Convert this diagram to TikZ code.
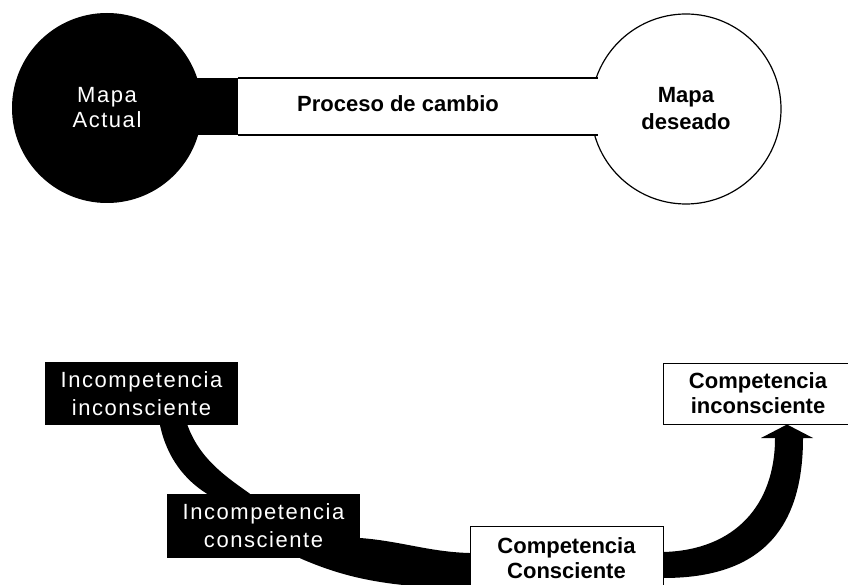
\documentclass[tikz,border=0pt]{standalone}
\usepackage{fontspec}
\setmainfont{Liberation Sans}
\newfontfamily\spacedfont[LetterSpace=7]{Liberation Sans}
\usetikzlibrary{backgrounds}
\begin{document}
\begin{tikzpicture}[x=1pt,y=-1pt,
  regtext/.style={font=\spacedfont\fontsize{22}{28}\selectfont, align=center},
  boldtext/.style={font=\bfseries\fontsize{22}{25}\selectfont, align=center},
  blackbox/.style={regtext, fill=black, text=white, inner sep=0pt},
  whitebox/.style={boldtext, draw=black, line width=1pt, fill=white, inner sep=0pt},
  band/.style={fill=black, draw=none}]
\useasboundingbox (0,0) rectangle (848,585);
\clip (0,0) rectangle (848,585);

% ---------- top: change process ----------
\node[circle, draw=black, line width=1.2pt, fill=white, minimum size=190pt, inner sep=0pt] (deseado) at (686,109) {};
\node[fill=white, minimum width=360pt, minimum height=57pt, inner sep=0pt] (bar) at (418,106.5) {};
\draw[line width=1.5pt] (bar.north west) -- (bar.north east);
\draw[line width=1.5pt] (bar.south west) -- (bar.south east);
\node[circle, fill=black, minimum size=190pt, inner sep=0pt] (actual) at (107,108) {};
\node[fill=black, minimum width=44pt, minimum height=57pt, inner sep=0pt, anchor=east] (barblack) at (bar.west) {};
\node[regtext, text=white, font=\spacedfont\fontsize{22}{25}\selectfont] (actualtxt) at (actual.center) {Mapa\\Actual};
\node[boldtext, font=\bfseries\fontsize{22}{27}\selectfont] (procesotxt) at (398,104) {Proceso de cambio};
\node[boldtext, font=\bfseries\fontsize{22}{27}\selectfont] (deseadotxt) at (deseado.center) {Mapa\\deseado};

% ---------- bottom: competence stages ----------
\node[blackbox, minimum width=193pt, minimum height=63pt] (b1) at (141.5,393.5) {Incompetencia\\inconsciente};
\node[blackbox, minimum width=193pt, minimum height=64pt] (b2) at (263.5,526) {Incompetencia\\consciente};
\node[whitebox, minimum width=193pt, minimum height=64pt] (b3) at (566.5,558) {Competencia\\Consciente};
\node[whitebox, minimum width=190pt, minimum height=61pt] (b4) at (758,393.5) {Competencia\\inconsciente};

\begin{scope}[on background layer]
% band from b1 to b2
\fill[band] ([xshift=18.5pt,yshift=3pt]b1.south) -- ([xshift=18.5pt]b1.south)
  .. controls (167,458) and (185,480) .. ([xshift=-56.5pt]b2.north)
  -- ([xshift=-56.5pt,yshift=-3pt]b2.north) -- ([xshift=-13.5pt,yshift=-3pt]b2.north)
  -- ([xshift=-13.5pt]b2.north)
  .. controls (228,478) and (200,460) .. ([xshift=46pt]b1.south)
  -- ([xshift=46pt,yshift=3pt]b1.south) -- cycle;
% band from b2 to b3
\fill[band] ([xshift=-4pt,yshift=-12pt]b2.east) -- ([yshift=-12pt]b2.east)
  .. controls (400,541) and (430,552) .. ([yshift=5pt]b3.west)
  -- ([xshift=4pt,yshift=5pt]b3.west) -- ([xshift=4pt,yshift=-30pt]b3.west)
  -- ([yshift=-30pt]b3.west)
  .. controls (390,588) and (345,578) .. ([xshift=36.5pt]b2.south)
  -- ([xshift=36.5pt,yshift=4pt]b2.south) -- cycle;
% arrow from b3 to b4
\fill[band] ([xshift=-4pt,yshift=6pt]b3.east) -- ([yshift=6pt]b3.east)
  .. controls (735,550) and (775,505) .. (775,438)
  -- (761,438) -- ([xshift=29pt]b4.south) -- (813,438) -- (803,438)
  .. controls (803,530) and (760,578) .. ([yshift=-20pt]b3.east)
  -- ([xshift=-4pt,yshift=-20pt]b3.east) -- cycle;
\end{scope}
\end{tikzpicture}
\end{document}
